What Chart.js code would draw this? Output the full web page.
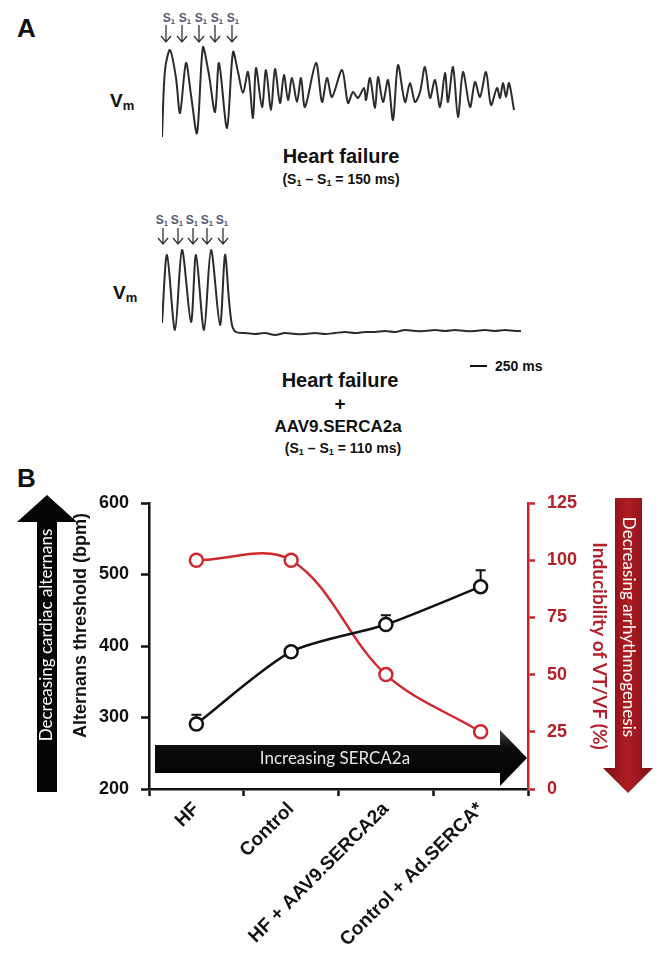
<!DOCTYPE html>
<html>
<head>
<meta charset="utf-8">
<script src="https://cdn.jsdelivr.net/npm/chart.js@4.4.0/dist/chart.umd.min.js"></script>
<style>
  body { margin: 0; width: 660px; height: 953px; position: relative; background: #fff; overflow: hidden;
         font-family: "Liberation Sans", Arial, sans-serif; color: #111; }
  .t { position: absolute; white-space: nowrap; line-height: 1; font-weight: bold; }
  .c { transform: translateX(-50%); }
  .s1 { font-size: 12px; color: #525a72; }
  .s1 sub, .cap sub { font-size: 0.65em; vertical-align: -0.2em; }
  .vm { font-size: 19px; }
  .vm sub { font-size: 13px; vertical-align: -0.25em; }
  canvas { position: absolute; }
</style>
</head>
<body>

<div class="t" style="left:17px;top:15px;font-size:26px">A</div>
<div class="t" style="left:17px;top:465px;font-size:26px">B</div>

<div class="t vm" style="left:110px;top:91px">V<sub>m</sub></div>
<div class="t vm" style="left:113px;top:283px">V<sub>m</sub></div>

<div class="t c" style="left:341px;top:146px;font-size:20px">Heart failure</div>
<div class="t c cap" style="left:341px;top:172px;font-size:14px">(S<sub>1</sub> – S<sub>1</sub> = 150 ms)</div>

<div class="t c" style="left:340px;top:370px;font-size:20px">Heart failure</div>
<div class="t c" style="left:340px;top:394px;font-size:19px">+</div>
<div class="t c" style="left:338px;top:418px;font-size:17px">AAV9.SERCA2a</div>
<div class="t c cap" style="left:343px;top:441px;font-size:14px">(S<sub>1</sub> – S<sub>1</sub> = 110 ms)</div>

<div style="position:absolute;left:470px;top:365px;width:17px;height:1.5px;background:#111"></div>
<div class="t" style="left:495px;top:359px;font-size:14px">250 ms</div>

<div id="stim"></div>
<svg id="arrows" width="660" height="300" style="position:absolute;left:0;top:0"></svg>

<canvas id="traceHF" width="353" height="100" style="left:162px;top:45px"></canvas>
<canvas id="traceAAV" width="360" height="95" style="left:162px;top:245px"></canvas>
<canvas id="chartB" width="660" height="493" style="left:0;top:460px"></canvas>

<script>
// Panel A: optical action potentials (time in ms, Vm in arbitrary units)
const hfTime = [0, 42, 112, 196, 252, 336, 406, 490, 574, 658, 742, 798, 910, 994, 1064,
  1134, 1204, 1274, 1316, 1400, 1456, 1526, 1582, 1652, 1708, 1764, 1820, 1890, 1946, 2002,
  2156, 2240, 2310, 2380, 2520, 2604, 2674, 2744, 2828, 2856, 2912, 2982, 3024, 3094, 3164,
  3234, 3304, 3402, 3472, 3542, 3612, 3682, 3752, 3822, 3892, 3962, 4004, 4074, 4144, 4214,
  4312, 4382, 4452, 4536, 4606, 4690, 4732, 4774, 4816, 4858, 4928];
const hfVm = [3, 70, 90, 62, 27, 77, 45, 7, 93, 65, 28, 77, 12, 88, 68,
  47, 68, 22, 72, 33, 70, 30, 71, 37, 65, 40, 62, 38, 62, 33,
  77, 38, 62, 43, 70, 37, 48, 42, 52, 40, 62, 32, 63, 38, 60,
  20, 75, 38, 57, 38, 48, 73, 42, 60, 33, 67, 38, 73, 23, 68,
  33, 58, 43, 68, 35, 52, 42, 57, 43, 57, 30];

const aavTime = [0, 70, 182, 280, 406, 476, 588, 686, 812, 882, 938, 980, 1036,
  1162, 1302, 1442, 1582, 1722, 1862, 2002, 2142, 2282, 2422, 2562, 2702, 2842, 2982,
  3122, 3262, 3402, 3542, 3682, 3822, 3962, 4102, 4242, 4382, 4522, 4662, 4802, 4942, 5026];
const aavVm = [17, 85, 10, 90, 18, 85, 10, 90, 15, 85, 40, 15, 8,
  7, 6, 7, 5, 7, 6, 6, 7, 6, 7, 8, 7, 8, 8,
  9, 8, 10, 9, 9, 10, 9, 10, 9, 9, 10, 9, 10, 9, 9];

const stimLabelX = [[169, 185, 201, 217, 233], [162, 177, 192, 207, 222]];

// Panel B
const groups = ['HF', 'Control', 'HF + AAV9.SERCA2a', 'Control + Ad.SERCA*'];
const alternansThreshold = [291, 392, 430, 483];
const alternansError = [13, 4, 13, 23];
const vtInducibility = [100, 100, 50, 25];
const thresholdTicks = [200, 300, 400, 500, 600];
const inducibilityTicks = [0, 25, 50, 75, 100, 125];

// stimulus labels + arrows above the traces
const stimBox = document.getElementById('stim');
const svg = document.getElementById('arrows');
const arrowX = [[166, 182, 199, 215, 232], [163, 178, 193, 207, 223]];
const arrowY = [[25, 42], [228, 244]];
const labelTop = [12, 214];
let svgHtml = '';
for (let r = 0; r < 2; r++) {
  stimLabelX[r].forEach(x => {
    const d = document.createElement('div');
    d.className = 't c s1';
    d.style.left = x + 'px';
    d.style.top = labelTop[r] + 'px';
    d.innerHTML = 'S<sub>1</sub>';
    stimBox.appendChild(d);
  });
  arrowX[r].forEach(x => {
    const [y0, y1] = arrowY[r];
    svgHtml += `<path d="M${x} ${y0} L${x} ${y1} M${x - 5} ${y1 - 6} L${x} ${y1} L${x + 5} ${y1 - 6}" stroke="#333" stroke-width="1.3" fill="none"/>`;
  });
}
svg.innerHTML = svgHtml;

Chart.defaults.font.family = '"Liberation Sans", Arial, sans-serif';

function traceChart(id, times, vm, yMin, yMax, xMax) {
  return new Chart(document.getElementById(id), {
    type: 'line',
    data: {
      datasets: [{
        data: times.map((t, i) => ({ x: t, y: vm[i] })),
        borderColor: '#2b2b2b',
        borderWidth: 2,
        pointRadius: 0,
        tension: 0.3,
        clip: false
      }]
    },
    options: {
      responsive: false,
      animation: false,
      layout: { padding: 0 },
      plugins: { legend: { display: false }, tooltip: { enabled: false } },
      scales: {
        x: { type: 'linear', display: false, min: 0, max: xMax },
        y: { display: false, min: yMin, max: yMax }
      }
    }
  });
}

traceChart('traceHF', hfTime, hfVm, -5, 95, 4942);
traceChart('traceAAV', aavTime, aavVm, 0, 95, 5040);

function polygon(ctx, pts, fill) {
  ctx.beginPath();
  pts.forEach(([x, y], i) => i ? ctx.lineTo(x, y) : ctx.moveTo(x, y));
  ctx.closePath();
  ctx.fillStyle = fill;
  ctx.fill();
}

function rotatedText(ctx, text, x, y, angle, font, color) {
  ctx.save();
  ctx.translate(x, y);
  ctx.rotate(angle);
  ctx.font = font;
  ctx.fillStyle = color;
  ctx.textAlign = 'center';
  ctx.textBaseline = 'middle';
  ctx.fillText(text, 0, 0);
  ctx.restore();
}

const decor = {
  id: 'decor',
  beforeDatasetsDraw(chart) {
    const { ctx, scales } = chart;
    // increasing SERCA2a arrow inside the plot
    const g = ctx.createLinearGradient(0, 270, 0, 325);
    g.addColorStop(0, '#4a4a4a');
    g.addColorStop(0.3, '#0c0c0c');
    g.addColorStop(1, '#000');
    polygon(ctx, [[155, 285], [500, 285], [500, 270], [527, 298], [500, 326], [500, 313], [155, 313]], g);
    rotatedText(ctx, 'Increasing SERCA2a', 335, 299, 0, '17px Lato', '#e6e6e6');

    // error bars (upward only)
    ctx.save();
    ctx.strokeStyle = '#111';
    ctx.lineWidth = 2;
    alternansThreshold.forEach((v, i) => {
      const x = scales.x.getPixelForValue(i);
      const y0 = scales.y.getPixelForValue(v);
      const y1 = scales.y.getPixelForValue(v + alternansError[i]);
      ctx.beginPath();
      ctx.moveTo(x, y0);
      ctx.lineTo(x, y1);
      ctx.moveTo(x - 5, y1);
      ctx.lineTo(x + 5, y1);
      ctx.stroke();
    });
    ctx.restore();
  },
  afterDraw(chart) {
    const { ctx } = chart;
    // decreasing cardiac alternans (black, pointing up)
    polygon(ctx, [[47, 35], [77, 62], [57, 62], [57, 332], [37, 332], [37, 62], [17, 62]], '#050505');
    rotatedText(ctx, 'Decreasing cardiac alternans', 47, 175, -Math.PI / 2, '17px Lato', '#fff');
    // decreasing arrhythmogenesis (red, pointing down)
    const g = ctx.createLinearGradient(603, 0, 653, 0);
    g.addColorStop(0, '#7a0e12');
    g.addColorStop(0.5, '#ae1d23');
    g.addColorStop(1, '#7e0f14');
    polygon(ctx, [[615, 38], [642, 38], [642, 308], [653, 308], [628, 333], [603, 308], [615, 308]], g);
    rotatedText(ctx, 'Decreasing arrhythmogenesis', 628, 167, Math.PI / 2, '17px Lato', '#fff');
  }
};

const black = '#111';
const red = '#c8242b';

new Chart(document.getElementById('chartB'), {
  type: 'line',
  data: {
    labels: groups,
    datasets: [
      {
        label: 'Alternans threshold (bpm)',
        data: alternansThreshold,
        yAxisID: 'y',
        borderColor: black,
        borderWidth: 2.5,
        tension: 0.25,
        pointRadius: 6.5,
        pointBorderWidth: 2.5,
        pointBackgroundColor: '#fff',
        pointBorderColor: black
      },
      {
        label: 'Inducibility of VT/VF (%)',
        data: vtInducibility,
        yAxisID: 'y1',
        borderColor: '#d0282e',
        borderWidth: 2.5,
        tension: 0.35,
        pointRadius: 6.5,
        pointBorderWidth: 2.5,
        pointBackgroundColor: '#fff',
        pointBorderColor: '#d0282e'
      }
    ]
  },
  options: {
    responsive: false,
    animation: false,
    layout: { padding: { left: 70, right: 49, top: 43, bottom: 0 } },
    plugins: { legend: { display: false }, tooltip: { enabled: false } },
    scales: {
      x: {
        offset: true,
        grid: { offset: true, drawOnChartArea: false, tickLength: 7, tickWidth: 2.5, tickColor: black },
        border: { color: black, width: 2.5 },
        ticks: { minRotation: 45, maxRotation: 45, padding: 2, color: black,
                 font: { size: 19, weight: 'bold' } },
        afterFit(s) { s.height = 164; }
      },
      y: {
        position: 'left',
        min: thresholdTicks[0],
        max: thresholdTicks[thresholdTicks.length - 1],
        afterBuildTicks(s) { s.ticks = thresholdTicks.map(v => ({ value: v })); },
        grid: { drawOnChartArea: false, tickLength: 8, tickWidth: 2.5, tickColor: black },
        border: { color: black, width: 2.5 },
        ticks: { padding: 12, color: black, font: { size: 18, weight: 'bold' } },
        title: { display: true, text: 'Alternans threshold (bpm)\u00a0\u00a0', align: 'end', color: black,
                 padding: 0, font: { size: 18, weight: 'bold' } },
        afterFit(s) { s.width = 79; }
      },
      y1: {
        position: 'right',
        min: inducibilityTicks[0],
        max: inducibilityTicks[inducibilityTicks.length - 1],
        afterBuildTicks(s) { s.ticks = inducibilityTicks.map(v => ({ value: v })); },
        grid: { drawOnChartArea: false, tickLength: 7, tickWidth: 2.5, tickColor: red },
        border: { color: red, width: 2.5 },
        ticks: { padding: 12, color: '#b3202a', font: { size: 18, weight: 'bold' } },
        title: { display: true, text: 'Inducibility of VT/VF (%)', color: '#b3202a',
                 padding: 0, font: { family: 'Lato', size: 19, weight: 'bold' } },
        afterFit(s) { s.width = 83; }
      }
    }
  },
  plugins: [decor]
});
</script>
</body>
</html>
